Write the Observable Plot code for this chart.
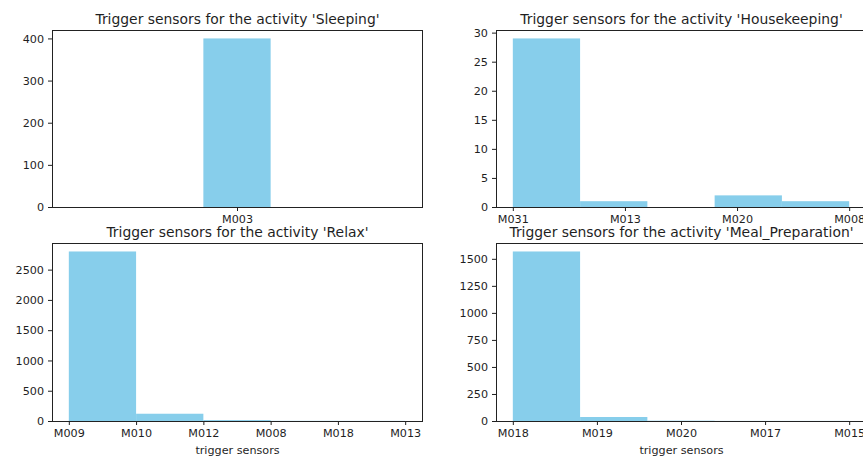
<!DOCTYPE html>
<html><head><meta charset="utf-8">
<script src="https://cdn.jsdelivr.net/npm/d3@7"></script>
<script src="https://cdn.jsdelivr.net/npm/@observablehq/plot@0.6"></script>
<style>
html,body{margin:0;padding:0;background:#fff;overflow:hidden;}
#fig{position:relative;width:863px;height:457px;overflow:hidden;background:#fff;}
#fig svg{position:absolute;max-width:none;}
</style></head><body><div id="fig"></div>
<script>
// Data (counts per trigger sensor, in order of first appearance)
const sleepingSensors = ["M003"];
const sleepingCounts = [400];
const housekeepingSensors = ["M031", "M013", "M020", "M008"];
const housekeepingCounts = [29, 1, 2, 1];
const relaxSensors = ["M009", "M010", "M012", "M008", "M018", "M013"];
const relaxCounts = [2800, 120, 15, 3, 1, 1];
const mealSensors = ["M018", "M019", "M020", "M017", "M015"];
const mealCounts = [1568, 37, 3, 1, 1];

const sleepingYTicks = [0, 100, 200, 300, 400];
const housekeepingYTicks = [0, 5, 10, 15, 20, 25, 30];
const relaxYTicks = [0, 500, 1000, 1500, 2000, 2500];
const mealYTicks = [0, 250, 500, 750, 1000, 1250, 1500];

const BAR = "#87CEEB";
const FONT = "DejaVu Sans";
const TICK_FS = 11.2;

// matplotlib-style histogram of categorical codes with 5 bins
function binCounts(sensors, counts, nbins = 5) {
  const n = sensors.length;
  const lo = n === 1 ? -0.5 : 0, hi = n === 1 ? 0.5 : n - 1;
  const w = (hi - lo) / nbins;
  const totals = new Array(nbins).fill(0);
  counts.forEach((c, i) => {
    let k = Math.floor((i - lo) / w + 1e-9);
    if (k >= nbins) k = nbins - 1;
    totals[k] += c;
  });
  return {lo, hi, rows: totals.map((y, k) => ({x1: lo + k * w, x2: lo + (k + 1) * w, y}))};
}

function panel({title, sensors, counts, yTicks, left, top, mL, mT, mR, mB, H, xlabel}) {
  const W = 370;
  const {lo, hi, rows} = binCounts(sensors, counts);
  const pad = 0.05 * (hi - lo);
  const ymax = d3.max(rows, d => d.y) * 1.05;
  const marks = [
    Plot.rectY(rows, {x1: "x1", x2: "x2", y: "y", fill: BAR, inset: 0}),
    Plot.axisX({ticks: d3.range(sensors.length), tickFormat: i => sensors[i], tickSize: 4, tickPadding: 4, label: null, fontSize: TICK_FS}),
    Plot.axisY({ticks: yTicks, tickFormat: d => String(d), tickSize: 4, tickPadding: 4.5, label: null, fontSize: TICK_FS}),
    Plot.frame({stroke: "#222", strokeWidth: 1}),
    Plot.text([title], {text: d => d, frameAnchor: "top", dy: -6.5, lineAnchor: "bottom", fontSize: 13.9})
  ];
  if (xlabel) marks.push(Plot.text([xlabel], {text: d => d, frameAnchor: "bottom", dy: 29, lineAnchor: "middle", fontSize: TICK_FS}));
  const svg = Plot.plot({
    width: mL + W + mR,
    height: mT + H + mB,
    marginLeft: mL, marginRight: mR, marginTop: mT, marginBottom: mB,
    x: {domain: [lo - pad, hi + pad]},
    y: {domain: [0, ymax]},
    style: {fontFamily: FONT, fontSize: TICK_FS + "px", color: "#1f1f1f", background: "transparent", overflow: "visible"},
    marks
  });
  svg.style.left = left + "px";
  svg.style.top = top + "px";
  document.getElementById("fig").appendChild(svg);
}

panel({title: "Trigger sensors for the activity 'Sleeping'", sensors: sleepingSensors, counts: sleepingCounts, yTicks: sleepingYTicks,
  left: 0, top: 0, mL: 52, mT: 30, mR: 8, mB: 23, H: 177});
panel({title: "Trigger sensors for the activity 'Housekeeping'", sensors: housekeepingSensors, counts: housekeepingCounts, yTicks: housekeepingYTicks,
  left: 430, top: 0, mL: 66, mT: 30, mR: 4, mB: 23, H: 177});
panel({title: "Trigger sensors for the activity 'Relax'", sensors: relaxSensors, counts: relaxCounts, yTicks: relaxYTicks,
  left: 0, top: 200, mL: 52, mT: 43, mR: 8, mB: 37, H: 178, xlabel: "trigger sensors"});
panel({title: "Trigger sensors for the activity 'Meal_Preparation'", sensors: mealSensors, counts: mealCounts, yTicks: mealYTicks,
  left: 430, top: 200, mL: 66, mT: 43, mR: 4, mB: 37, H: 178, xlabel: "trigger sensors"});
</script>
</body></html>
